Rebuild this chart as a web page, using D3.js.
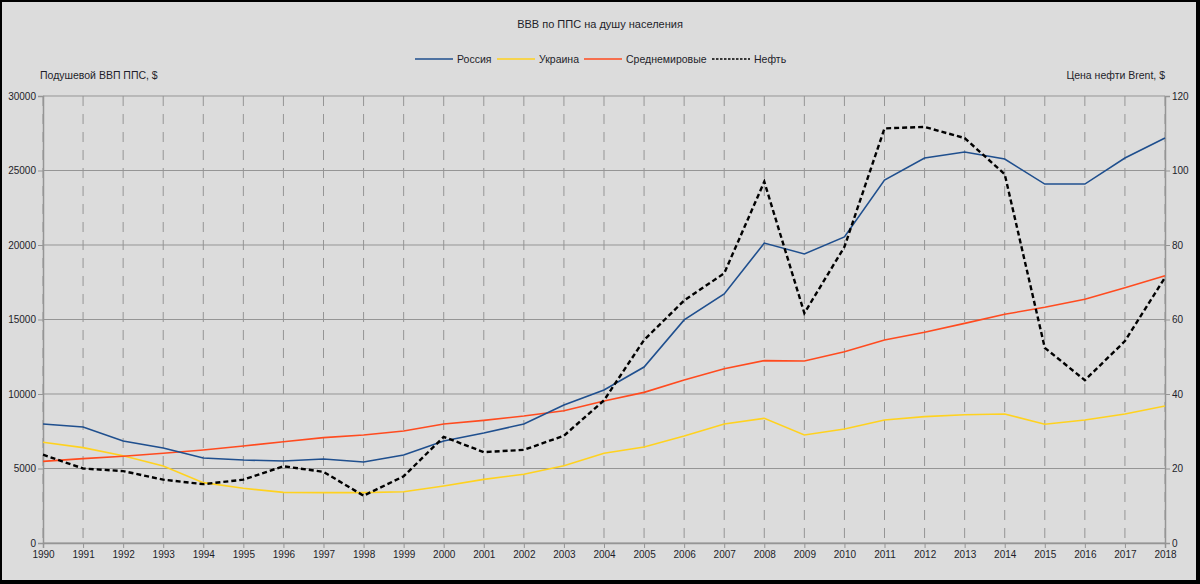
<!DOCTYPE html>
<html>
<head>
<meta charset="utf-8">
<script src="https://cdn.jsdelivr.net/npm/d3@7"></script>
<style>
html,body{margin:0;padding:0;background:#000;}
svg{display:block;}
text{font-family:"Liberation Sans",Arial,sans-serif;fill:#1e1e2a;}
</style>
</head>
<body>
<svg id="chart" width="1200" height="584"></svg>
<script>
const years = d3.range(1990, 2019);
const russia = [7990,7790,6850,6380,5700,5570,5500,5640,5440,5900,6850,7380,7990,9260,10270,11810,14970,16710,20130,19400,20540,24360,25840,26240,25770,24090,24090,25840,27180];
const ukraine = [6760,6400,5860,5170,4050,3670,3400,3380,3380,3440,3830,4270,4610,5190,6020,6440,7180,7990,8370,7250,7650,8250,8480,8610,8660,7970,8250,8660,9190];
const world = [5480,5660,5820,6020,6240,6510,6800,7070,7250,7520,7990,8230,8520,8880,9530,10110,10940,11700,12240,12210,12840,13620,14140,14740,15350,15820,16360,17130,17940];
const oil = [23.7,20.0,19.3,17.0,15.8,17.0,20.6,19.1,12.7,17.9,28.5,24.4,25.0,28.8,38.3,54.5,65.1,72.4,97.0,61.7,79.5,111.3,111.7,108.7,99.0,52.4,43.7,54.2,71.3];
const leftTicks = [0,5000,10000,15000,20000,25000,30000];
const rightTicks = [0,20,40,60,80,100,120];
const title = "ВВВ по ППС на душу населения";
const leftTitle = "Подушевой ВВП ППС, $";
const rightTitle = "Цена нефти Brent, $";
const seriesNames = ["Россия","Украина","Среднемировые","Нефть"];

const svg = d3.select("#chart");
svg.append("rect").attr("x",2).attr("y",2).attr("width",1194).attr("height",578).attr("fill","#dcdcdc");

const L = 43, R = 1165, T = 96, B = 543;
const x = d3.scaleLinear().domain([1990,2018]).range([L,R]);
const yL = d3.scaleLinear().domain([0,30000]).range([B,T]);
const yR = d3.scaleLinear().domain([0,120]).range([B,T]);

// horizontal grid
svg.append("g").selectAll("line").data(leftTicks).join("line")
  .attr("x1",L).attr("x2",R).attr("y1",d=>yL(d)).attr("y2",d=>yL(d))
  .attr("stroke","#959595").attr("stroke-width",1);
// vertical grid dashed
svg.append("g").selectAll("line").data(years).join("line")
  .attr("x1",d=>x(d)).attr("x2",d=>x(d)).attr("y1",T).attr("y2",B)
  .attr("stroke","#959595").attr("stroke-width",1).attr("stroke-dasharray","10,8");

// axes
const axB = d3.axisBottom(x).tickValues(years).tickFormat(d3.format("d")).tickSize(5).tickPadding(3);
const gB = svg.append("g").attr("transform",`translate(0,${B})`).call(axB);
const axLf = d3.axisLeft(yL).tickValues(leftTicks).tickFormat(d=>String(d)).tickSize(5).tickPadding(2);
const gL = svg.append("g").attr("transform",`translate(${L},0)`).call(axLf);
const axRt = d3.axisRight(yR).tickValues(rightTicks).tickFormat(d=>String(d)).tickSize(5).tickPadding(2);
const gR = svg.append("g").attr("transform",`translate(${R},0)`).call(axRt);
[gB,gL,gR].forEach(g=>{
  g.select(".domain").attr("stroke","#959595").attr("stroke-width",1.5);
  g.selectAll(".tick line").attr("stroke","#959595");
  g.selectAll(".tick text").attr("font-size",10).attr("font-family","Liberation Sans, Arial, sans-serif").attr("fill","#1e1e2a");
});

// lines
const lineL = d3.line().x((d,i)=>x(years[i])).y(d=>yL(d));
const lineR = d3.line().x((d,i)=>x(years[i])).y(d=>yR(d));
const colors = ["#1f4f8e","#ffd21f","#ff4b1f","#000"];
svg.append("path").datum(ukraine).attr("d",lineL).attr("fill","none").attr("stroke",colors[1]).attr("stroke-width",1.6);
svg.append("path").datum(world).attr("d",lineL).attr("fill","none").attr("stroke",colors[2]).attr("stroke-width",1.6);
svg.append("path").datum(russia).attr("d",lineL).attr("fill","none").attr("stroke",colors[0]).attr("stroke-width",1.6);
svg.append("path").datum(oil).attr("d",lineR).attr("fill","none").attr("stroke",colors[3]).attr("stroke-width",2.4).attr("stroke-dasharray","5,3");

// titles
svg.append("text").attr("x",600).attr("y",28).attr("text-anchor","middle").attr("font-size",11).text(title);
svg.append("text").attr("x",40).attr("y",79).attr("font-size",10.5).text(leftTitle);
svg.append("text").attr("x",1165).attr("y",79).attr("text-anchor","end").attr("font-size",10.5).text(rightTitle);

// legend
const legX = [415,497,584,712];
const leg = svg.append("g");
seriesNames.forEach((n,i)=>{
  leg.append("line").attr("x1",legX[i]).attr("x2",legX[i]+38).attr("y1",59).attr("y2",59)
    .attr("stroke",colors[i]).attr("stroke-width",i===3?1.5:1.6)
    .attr("stroke-dasharray",i===3?"2.5,1.5":null);
  leg.append("text").attr("x",legX[i]+42).attr("y",63).attr("font-size",10.5).text(n);
});
</script>
</body>
</html>
